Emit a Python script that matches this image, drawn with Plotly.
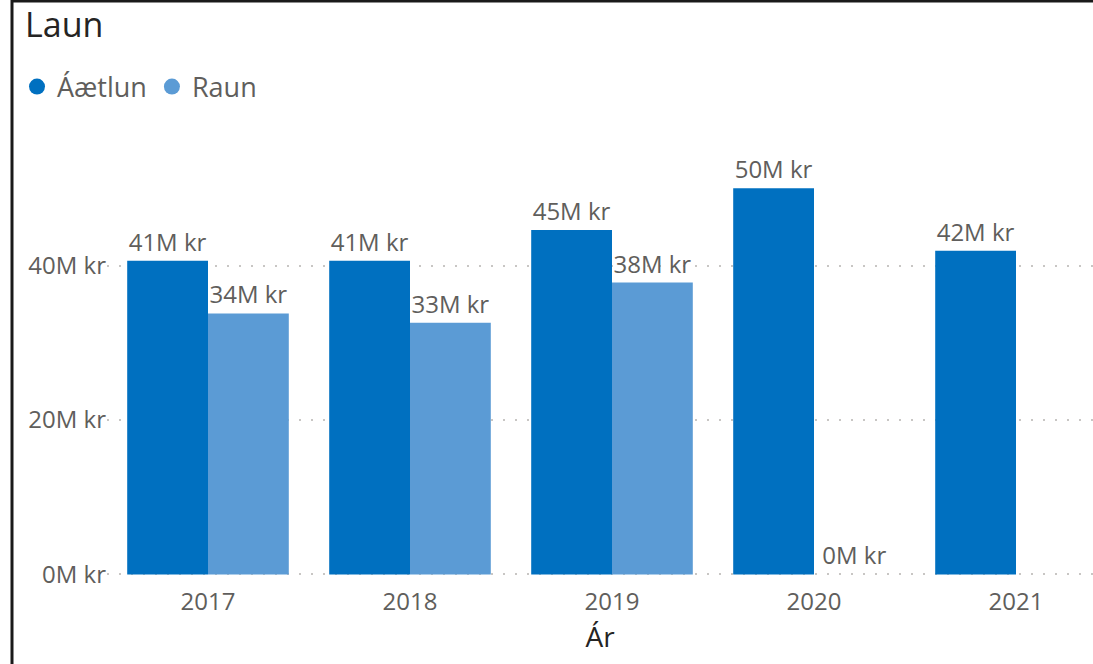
import plotly.graph_objects as go

# ── Data (millions of kr) ─────────────────────────────────────────────────────
years = ["2017", "2018", "2019", "2020", "2021"]
aaetlun = [40.6, 40.6, 44.6, 50.0, 41.9]
raun = [33.8, 32.6, 37.8, 0.0, None]

series_names = ["Áætlun", "Raun"]
series_colors = ["#0070C0", "#5B9BD5"]

y_ticks = [0, 20, 40]
y_ticktext = [f"{v}M kr" for v in y_ticks]

FONT = "Segoe UI, Open Sans, sans-serif"
GRAY = "#605E5C"
DARK = "#252423"

fig = go.Figure()

for name, vals, color in zip(series_names, [aaetlun, raun], series_colors):
    fig.add_trace(
        go.Bar(
            x=years,
            y=vals,
            name=name,
            marker=dict(color=color, line=dict(width=0)),
            texttemplate="%{y:.0f}M kr",
            textposition="outside",
            textfont=dict(size=24, color=GRAY, family=FONT),
            cliponaxis=False,
            showlegend=False,
        )
    )
    # circular legend markers like Power BI
    fig.add_trace(
        go.Scatter(
            x=[None], y=[None], mode="markers", name=name,
            marker=dict(color=color, size=21, symbol="circle"),
        )
    )

# ── Page geometry ────────────────────────────────────────────────────────────
W, H = 1093, 664
L, T, B = 107, 120, 88
pw, ph = W - L, H - T - B


def px_x(x):
    return (x - L) / pw


def px_y(y):
    return (H - B - y) / ph


# frame: left + top border of the visual
fig.add_shape(type="line", xref="paper", yref="paper",
              x0=px_x(12), x1=px_x(12), y0=px_y(H + 5), y1=px_y(0),
              line=dict(color="#1a1a1a", width=3))
fig.add_shape(type="line", xref="paper", yref="paper",
              x0=px_x(11), x1=px_x(W + 5), y0=px_y(1), y1=px_y(1),
              line=dict(color="#1a1a1a", width=3))

fig.update_layout(
    width=W, height=H,
    margin=dict(l=L, r=0, t=T, b=B, autoexpand=False),
    barmode="group",
    bargap=0.2,
    bargroupgap=0,
    plot_bgcolor="white",
    paper_bgcolor="white",
    font=dict(family=FONT, color=GRAY, size=24),
    title=dict(
        text="Laun",
        font=dict(size=34, color=DARK, family=FONT),
        xref="container", yref="container",
        x=25 / W, xanchor="left",
        y=1 - 25 / H, yanchor="middle",
    ),
    legend=dict(
        orientation="h",
        x=px_x(17), xanchor="left",
        y=px_y(87), yanchor="middle",
        font=dict(size=27, color=GRAY, family=FONT),
        bgcolor="rgba(0,0,0,0)",
        itemwidth=30,
        tracegroupgap=0,
    ),
)

fig.update_xaxes(
    range=[-0.5, pw / 202 - 0.5],
    showgrid=False, showline=False, ticks="",
    tickfont=dict(size=24, color=GRAY),
    ticklabelstandoff=9,
    title=dict(text="Ár", font=dict(size=28, color=DARK), standoff=8),
)
fig.update_yaxes(
    range=[-0.2, ph / 7.75],
    tickvals=y_ticks,
    ticktext=y_ticktext,
    tickfont=dict(size=24, color=GRAY),
    showgrid=True, gridcolor="#C8C6C4", griddash="2px,10px", gridwidth=1.5,
    zeroline=False, showline=False, ticks="",
    ticklabelstandoff=0,
)

fig.write_html(
    "out.html",
    config={"displayModeBar": False},
    post_script="document.body.style.margin='0';",
)
